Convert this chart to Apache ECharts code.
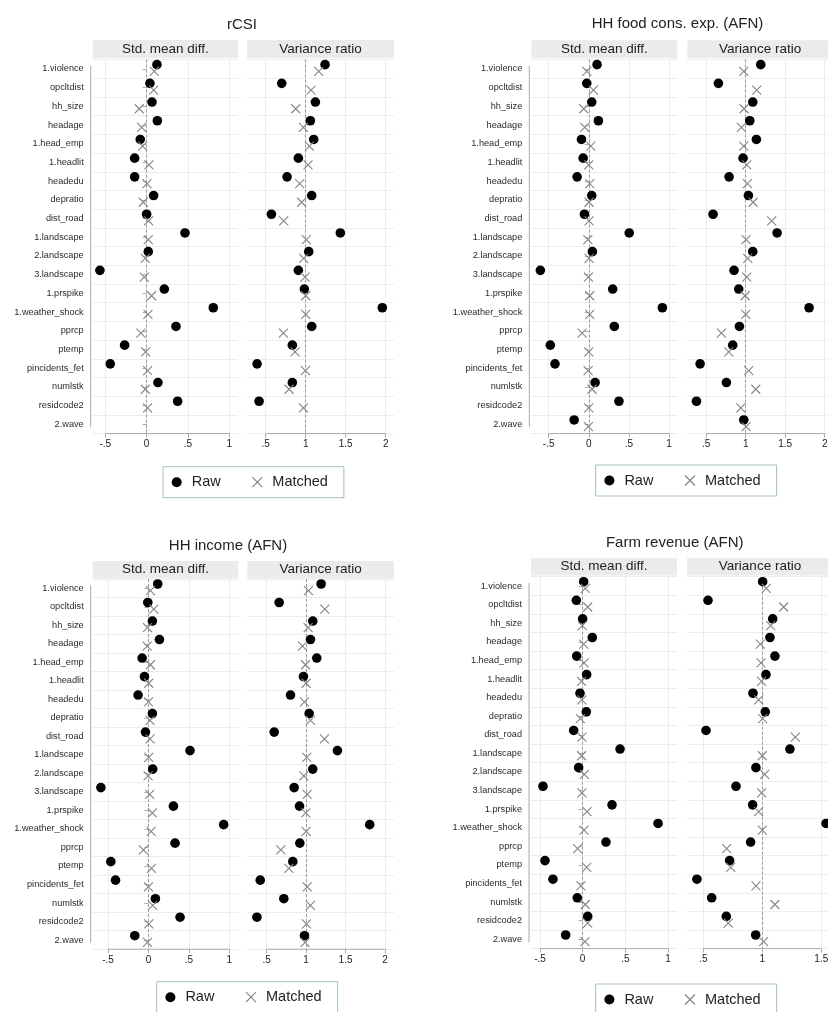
<!DOCTYPE html>
<html><head><meta charset="utf-8">
<script src="https://cdn.jsdelivr.net/npm/echarts@6/dist/echarts.min.js"></script>
<style>html,body{margin:0;padding:0;background:#fff}#c{width:828px;height:1012px}</style>
</head><body><div id="c"></div>
<script>
// ---------- DATA ----------
const categories = ['1.violence','opcltdist','hh_size','headage','1.head_emp','1.headlit','headedu','depratio','dist_road','1.landscape','2.landscape','3.landscape','1.prspike','1.weather_shock','pprcp','ptemp','pincidents_fet','numlstk','residcode2','2.wave'];
const panelTitles = ['rCSI','HH food cons. exp. (AFN)','HH income (AFN)','Farm revenue (AFN)'];
const stripLabels = ['Std. mean diff.','Variance ratio'];
const legendNames = ['Raw','Matched'];

const smdTicks = [-0.5, 0, 0.5, 1];
const vrTicks = [0.5, 1, 1.5, 2];
const vrTicksFarm = [0.5, 1, 1.5];

const rcsiSmdRaw     = [0.125,0.04,0.065,0.13,-0.077,-0.145,-0.145,0.085,0.0,0.464,0.02,-0.565,0.214,0.806,0.355,-0.266,-0.44,0.137,0.375,null];
const rcsiSmdMatched = [0.093,0.085,-0.089,-0.06,-0.048,0.028,0.004,-0.04,0.024,0.02,-0.016,-0.028,0.06,0.016,-0.069,-0.012,0.012,-0.016,0.012,null];
const rcsiVrRaw      = [1.242,0.70,1.121,1.058,1.10,0.908,0.767,1.075,0.571,1.433,1.038,0.908,0.983,1.958,1.075,0.833,0.392,0.833,0.417,null];
const rcsiVrMatched  = [1.163,1.067,0.875,0.971,1.046,1.029,0.925,0.95,0.725,1.008,0.975,0.992,1.0,1.0,0.721,0.867,0.996,0.792,0.971,null];

const foodSmdRaw     = [0.103,-0.025,0.037,0.12,-0.091,-0.07,-0.145,0.037,-0.054,0.504,0.045,-0.603,0.298,0.917,0.318,-0.479,-0.421,0.079,0.376,-0.182];
const foodSmdMatched = [-0.025,0.058,-0.062,-0.05,0.025,0.0,0.012,0.004,0.004,-0.012,0.004,-0.004,0.012,0.012,-0.083,0.0,-0.008,0.041,0.0,-0.004];
const foodVrRaw      = [1.19,0.654,1.089,1.051,1.135,0.966,0.789,1.034,0.586,1.397,1.089,0.852,0.911,1.802,0.92,0.835,0.422,0.755,0.376,0.975];
const foodVrMatched  = [0.975,1.139,0.979,0.945,0.975,1.013,1.021,1.093,1.329,1.004,1.025,1.013,0.992,1.0,0.692,0.785,1.038,1.127,0.937,1.004];

const incSmdRaw      = [0.115,-0.008,0.049,0.136,-0.078,-0.049,-0.128,0.049,-0.037,0.514,0.053,-0.588,0.309,0.93,0.329,-0.465,-0.407,0.086,0.391,-0.169];
const incSmdMatched  = [0.025,0.066,-0.012,-0.016,0.025,0.004,0.0,0.02,0.02,0.004,-0.004,0.016,0.049,0.033,-0.062,0.037,0.0,0.053,0.004,-0.012];
const incVrRaw       = [1.19,0.658,1.084,1.055,1.135,0.966,0.802,1.038,0.595,1.397,1.084,0.848,0.916,1.806,0.92,0.831,0.418,0.717,0.376,0.979];
const incVrMatched   = [1.03,1.236,1.025,0.954,0.992,1.0,0.979,1.055,1.232,1.008,0.97,1.013,0.996,1.0,0.679,0.781,1.013,1.055,1.004,0.987];

const farmSmdRaw     = [0.012,-0.074,0.0,0.113,-0.07,0.047,-0.031,0.043,-0.105,0.438,-0.047,-0.465,0.344,0.883,0.273,-0.441,-0.348,-0.063,0.059,-0.199];
const farmSmdMatched = [0.031,0.059,-0.004,0.012,0.016,-0.012,-0.008,-0.027,-0.008,-0.012,0.02,-0.008,0.051,0.016,-0.059,0.047,-0.02,0.031,0.059,0.027];
const farmVrRaw      = [1.003,0.54,1.088,1.065,1.107,1.031,0.921,1.025,0.523,1.234,0.946,0.777,0.918,1.54,0.901,0.723,0.446,0.571,0.695,0.944];
const farmVrMatched  = [1.034,1.181,1.071,0.983,0.989,0.994,0.969,1.003,1.28,1.0,1.02,0.994,0.969,1.0,0.698,0.732,0.946,1.107,0.712,1.011];

// ---------- LAYOUT / STYLE ----------
const FONT = '"Liberation Sans", Arial, Helvetica, sans-serif';
const X_PATH = 'path://M0,0L10,10M10,0L0,10';
const panels = [
  {data:[rcsiSmdRaw,rcsiSmdMatched,rcsiVrRaw,rcsiVrMatched], vr:vrTicks},
  {data:[foodSmdRaw,foodSmdMatched,foodVrRaw,foodVrMatched], vr:vrTicks},
  {data:[incSmdRaw,incSmdMatched,incVrRaw,incVrMatched], vr:vrTicks},
  {data:[farmSmdRaw,farmSmdMatched,farmVrRaw,farmVrMatched], vr:vrTicksFarm}
];
const layout = [
  {title:[242,25],    strip:[40,18],    gy:[59.6,374],    lefts:[92.7,247],   widths:[145.3,147],   ranges:[[-0.652,1.105],[0.266,2.104]], legend:[163,466.7]},
  {title:[677.5,24],  strip:[40.3,18],  gy:[59.6,374],    lefts:[531.3,687.3],widths:[146,145.7],   ranges:[[-0.716,1.103],[0.26,2.105]],  legend:[595.7,465]},
  {title:[228,545.7], strip:[561,17.5], gy:[579.05,370.2],lefts:[92.7,247.3], widths:[145.6,146.7], ranges:[[-0.689,1.111],[0.254,2.114]], legend:[156.7,981.7]},
  {title:[674.7,543], strip:[558,17.5], gy:[576.7,371.9], lefts:[531,687],    widths:[146,146],     ranges:[[-0.605,1.105],[0.362,1.599]], legend:[595.7,984]}
];

function fmtTick(v){
  if (Math.abs(v) < 1e-9) return '0';
  const s = String(+(+v).toFixed(2));
  return s.replace(/^(-?)0\./, '$1.');
}
function toPts(arr){
  const out = [];
  arr.forEach((v,i)=>{ if (v !== null && v !== undefined) out.push([v, i]); });
  return out;
}
function axisRenderer(withY){
  return function(params, api){
    const cs = params.coordSys;
    const x0 = api.coord([api.value(0), 0])[0];
    const x1 = api.coord([api.value(2), 0])[0];
    const yb = cs.y + cs.height;
    const children = [{type:'line', shape:{x1:x0, y1:yb, x2:x1, y2:yb}, style:{stroke:'#aaaaaa', lineWidth:1}}];
    if (withY){
      const yt = api.coord([api.value(0), 0])[1] - 3;
      const ye = api.coord([api.value(0), categories.length-1])[1] + 3;
      children.push({type:'line', shape:{x1:cs.x-2, y1:yt, x2:cs.x-2, y2:ye}, style:{stroke:'#aaaaaa', lineWidth:1}});
    }
    return {type:'group', children};
  };
}

const grids=[], xAxes=[], yAxes=[], series=[], graphics=[], legends=[];
const txt = (x,y,text,size)=>({type:'text', x, y, silent:true, style:{text, font:size+'px '+FONT, fill:'#222', textAlign:'center', textVerticalAlign:'middle', align:'center', verticalAlign:'middle'}});

panels.forEach((p, pi)=>{
  const L = layout[pi];
  graphics.push(txt(L.title[0], L.title[1], panelTitles[pi], 15));
  for (let s=0; s<2; s++){
    const gi = pi*2 + s;
    const left = L.lefts[s], width = L.widths[s];
    graphics.push({type:'rect', silent:true, shape:{x:left, y:L.strip[0], width, height:L.strip[1]}, style:{fill:'#ebebeb'}});
    graphics.push(txt(left+width/2, L.strip[0]+L.strip[1]/2, stripLabels[s], 13.5));
    grids.push({left, top:L.gy[0], width, height:L.gy[1], containLabel:false, outerBoundsMode:'none'});
    const ticks = s===0 ? smdTicks : p.vr;
    xAxes.push({
      type:'value', gridIndex:gi, min:L.ranges[s][0], max:L.ranges[s][1], splitNumber:3,
      axisLine:{show:false},
      axisTick:{show:true, length:4, customValues:ticks, lineStyle:{color:'#aaaaaa'}},
      axisLabel:{customValues:ticks, margin:6, fontSize:10, color:'#222', fontFamily:FONT, formatter:fmtTick},
      splitLine:{show:true, lineStyle:{color:'#ececec', width:1}}
    });
    yAxes.push({
      type:'category', gridIndex:gi, data:categories, inverse:true, boundaryGap:true, offset: s===0 ? 2 : 0,
      axisLine:{show:false},
      axisTick:{show:s===0, alignWithLabel:true, length:4, lineStyle:{color:'#aaaaaa'}},
      axisLabel:{show:s===0, interval:0, fontSize:9.2, color:'#2a2a2a', fontFamily:FONT, margin:7},
      splitLine:{show:true, lineStyle:{color:'#ececec', width:1}}
    });
    const ref = s===0 ? 0 : 1;
    series.push({
      type:'scatter', name:legendNames[0], xAxisIndex:gi, yAxisIndex:gi, z:3,
      symbol:'circle', symbolSize:9.6, symbolOffset:[0,-4.3], itemStyle:{color:'#000', opacity:1},
      data: toPts(p.data[s*2]),
      markLine:{silent:true, z:1, symbol:'none', label:{show:false}, emphasis:{disabled:true},
        lineStyle:{color:'#9a9a9a', type:[3,2], width:1}, data:[{xAxis:ref}]}
    });
    series.push({
      type:'scatter', name:legendNames[1], xAxisIndex:gi, yAxisIndex:gi, z:4,
      symbol:X_PATH, symbolSize:9, symbolOffset:[0,2.4],
      itemStyle:{color:'rgba(0,0,0,0)', borderColor:'#858585', borderWidth:1.1, opacity:1},
      data: toPts(p.data[s*2+1])
    });
    series.push({
      type:'custom', xAxisIndex:gi, yAxisIndex:gi, silent:true, z:1, clip:false,
      data:[[ticks[0], 0, ticks[ticks.length-1]]], encode:{x:0, y:1},
      renderItem: axisRenderer(s===0)
    });
  }
  legends.push({
    left:L.legend[0], top:L.legend[1], orient:'horizontal', padding:[8,16,8,8.7], itemGap:31,
    itemWidth:20, itemHeight:10, borderColor:'#a3c0bc', borderWidth:1, backgroundColor:'#fff',
    selectedMode:false, textStyle:{fontSize:14.5, color:'#222', fontFamily:FONT},
    data:[
      {name:legendNames[0], icon:'circle', itemStyle:{color:'#000', borderWidth:0, opacity:1}},
      {name:legendNames[1], icon:X_PATH, itemStyle:{color:'rgba(0,0,0,0)', borderColor:'#858585', borderWidth:1.2, opacity:1}}
    ]
  });
});

const chart = echarts.init(document.getElementById('c'), null, {renderer:'canvas'});
chart.setOption({
  animation:false, backgroundColor:'#fff',
  grid:grids, xAxis:xAxes, yAxis:yAxes, series, legend:legends, graphic:graphics
});
</script></body></html>
